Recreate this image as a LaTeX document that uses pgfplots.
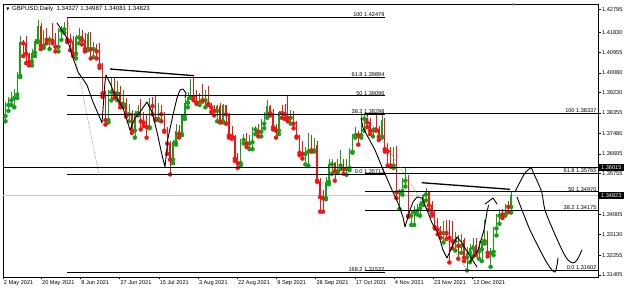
\documentclass[border=0pt]{standalone}
\usepackage{pgfplots}
\pgfplotsset{compat=1.18}
\usepackage{pgfplotstable}
\usepackage{fontspec}
\setmainfont{Liberation Sans}
\newfontfamily\dv{DejaVu Sans}
\definecolor{cgreen}{RGB}{20,160,20}
\definecolor{cred}{RGB}{240,20,20}
\newcommand\fs{\fontsize{5.6}{6}\selectfont}
\tikzset{fl/.style={anchor=south east, inner sep=0.4pt, font=\fs}}

\pgfplotstableread{
i o h l c
0 1.3822 1.3885 1.3800 1.3870
1 1.3870 1.3905 1.3845 1.3890
2 1.3890 1.3925 1.3870 1.3900
3 1.3900 1.3940 1.3860 1.3915
4 1.3915 1.4010 1.3900 1.3995
5 1.3995 1.4166 1.3990 1.4140
9 1.4055 1.4110 1.4040 1.4095
10 1.4095 1.4155 1.4080 1.4145
11 1.4145 1.4234 1.4140 1.4210
13 1.4125 1.4190 1.4115 1.4185
15 1.4150 1.4165 1.4110 1.4155
18 1.4120 1.4200 1.4100 1.4190
19 1.4190 1.4210 1.4150 1.4195
20 1.4195 1.4225 1.4180 1.4215
24 1.4090 1.4170 1.4070 1.4160
25 1.4160 1.4200 1.4135 1.4165
28 1.4110 1.4185 1.4105 1.4175
30 1.4110 1.4140 1.4075 1.4115
35 1.3805 1.3935 1.3795 1.3925
36 1.3925 1.3990 1.3890 1.3960
38 1.3920 1.3975 1.3890 1.3925
40 1.3875 1.3935 1.3860 1.3880
42 1.3830 1.3875 1.3800 1.3835
44 1.3760 1.3845 1.3730 1.3835
45 1.3835 1.3870 1.3825 1.3840
49 1.3775 1.3900 1.3770 1.3890
52 1.3810 1.3880 1.3805 1.3855
57 1.3635 1.3720 1.3620 1.3710
58 1.3710 1.3790 1.3700 1.3760
60 1.3745 1.3830 1.3740 1.3825
61 1.3825 1.3895 1.3810 1.3880
62 1.3880 1.3925 1.3860 1.3905
63 1.3905 1.3983 1.3900 1.3960
66 1.3880 1.3920 1.3870 1.3905
68 1.3890 1.3935 1.3860 1.3925
72 1.3845 1.3870 1.3800 1.3865
74 1.3800 1.3875 1.3795 1.3870
80 1.3620 1.3725 1.3610 1.3720
81 1.3720 1.3745 1.3705 1.3735
83 1.3705 1.3740 1.3680 1.3710
84 1.3710 1.3775 1.3680 1.3765
85 1.3765 1.3780 1.3745 1.3770
87 1.3755 1.3810 1.3735 1.3790
88 1.3790 1.3840 1.3770 1.3830
89 1.3830 1.3890 1.3815 1.3865
93 1.3760 1.3845 1.3745 1.3840
97 1.3815 1.3850 1.3790 1.3825
102 1.3660 1.3690 1.3615 1.3670
103 1.3670 1.3750 1.3610 1.3725
105 1.3675 1.3730 1.3670 1.3700
109 1.3470 1.3560 1.3465 1.3540
110 1.3540 1.3640 1.3530 1.3615
111 1.3615 1.3640 1.3575 1.3620
113 1.3585 1.3640 1.3580 1.3610
114 1.3610 1.3675 1.3595 1.3615
116 1.3595 1.3640 1.3570 1.3600
117 1.3600 1.3685 1.3590 1.3670
118 1.3670 1.3745 1.3665 1.3740
119 1.3740 1.3775 1.3730 1.3750
121 1.3740 1.3834 1.3730 1.3810
122 1.3810 1.3835 1.3760 1.3815
125 1.3760 1.3775 1.3735 1.3770
128 1.3735 1.3825 1.3730 1.3805
132 1.3610 1.3690 1.3600 1.3650
134 1.3495 1.3510 1.3424 1.3500
135 1.3500 1.3555 1.3485 1.3545
136 1.3545 1.3605 1.3520 1.3555
138 1.3395 1.3420 1.3355 1.3410
139 1.3410 1.3435 1.3355 1.3415
140 1.3415 1.3445 1.3400 1.3425
141 1.3425 1.3460 1.3395 1.3450
142 1.3450 1.3490 1.3440 1.3485
143 1.3485 1.3515 1.3460 1.3495
149 1.3320 1.3370 1.3280 1.3335
153 1.3285 1.3325 1.3245 1.3300
155 1.3265 1.3315 1.3235 1.3290
157 1.3215 1.3260 1.3160 1.3235
158 1.3235 1.3275 1.3195 1.3255
159 1.3255 1.3300 1.3220 1.3270
161 1.3240 1.3285 1.3210 1.3250
162 1.3250 1.3295 1.3200 1.3285
163 1.3285 1.3375 1.3275 1.3325
165 1.3235 1.3255 1.3175 1.3240
166 1.3240 1.3345 1.3225 1.3340
167 1.3340 1.3400 1.3310 1.3395
168 1.3395 1.3425 1.3360 1.3405
170 1.3400 1.3445 1.3395 1.3435
172 1.34327 1.34987 1.34081 1.34823
}\up

\pgfplotstableread{
i o h l c
6 1.4140 1.4150 1.4080 1.4135
7 1.4135 1.4165 1.4050 1.4090
8 1.4090 1.4095 1.4040 1.4055
12 1.4210 1.4220 1.4110 1.4125
14 1.4185 1.4200 1.4135 1.4150
16 1.4155 1.4220 1.4135 1.4145
17 1.4145 1.4180 1.4100 1.4120
21 1.4215 1.4249 1.4140 1.4150
22 1.4150 1.4175 1.4105 1.4145
23 1.4145 1.4165 1.4080 1.4090
26 1.4165 1.4190 1.4130 1.4150
27 1.4150 1.4180 1.4100 1.4110
29 1.4175 1.4185 1.4070 1.4110
31 1.4115 1.4130 1.4070 1.4100
32 1.4100 1.4135 1.4030 1.4040
33 1.4040 1.4050 1.3905 1.3920
34 1.3920 1.3930 1.3786 1.3805
37 1.3960 1.3985 1.3900 1.3920
39 1.3925 1.3950 1.3860 1.3875
41 1.3880 1.3900 1.3820 1.3830
43 1.3835 1.3850 1.3750 1.3760
46 1.3840 1.3895 1.3765 1.3800
47 1.3800 1.3840 1.3780 1.3795
48 1.3795 1.3830 1.3730 1.3775
50 1.3890 1.3905 1.3830 1.3865
51 1.3865 1.3910 1.3805 1.3810
53 1.3855 1.3870 1.3800 1.3830
54 1.3830 1.3840 1.3755 1.3760
55 1.3760 1.3775 1.3660 1.3705
56 1.3705 1.3715 1.3572 1.3635
59 1.3760 1.3785 1.3730 1.3745
64 1.3960 1.3985 1.3890 1.3905
65 1.3905 1.3935 1.3875 1.3880
67 1.3905 1.3960 1.3885 1.3890
69 1.3925 1.3950 1.3870 1.3875
70 1.3875 1.3880 1.3840 1.3860
71 1.3860 1.3870 1.3825 1.3845
73 1.3865 1.3880 1.3795 1.3800
75 1.3870 1.3872 1.3790 1.3830
76 1.3830 1.3835 1.3730 1.3740
77 1.3740 1.3780 1.3725 1.3735
78 1.3735 1.3740 1.3630 1.3640
79 1.3640 1.3665 1.3600 1.3620
82 1.3735 1.3750 1.3690 1.3705
86 1.3770 1.3790 1.3735 1.3755
90 1.3865 1.3870 1.3825 1.3835
91 1.3835 1.3855 1.3765 1.3775
92 1.3775 1.3790 1.3730 1.3760
94 1.3840 1.3870 1.3815 1.3835
95 1.3835 1.3875 1.3810 1.3830
96 1.3830 1.3913 1.3800 1.3815
98 1.3825 1.3845 1.3770 1.3790
99 1.3790 1.3800 1.3730 1.3735
100 1.3735 1.3740 1.3655 1.3665
101 1.3665 1.3715 1.3640 1.3660
104 1.3725 1.3740 1.3670 1.3675
106 1.3700 1.3715 1.3540 1.3545
107 1.3545 1.3555 1.3412 1.3475
108 1.3475 1.3505 1.3412 1.3470
112 1.3620 1.3625 1.3545 1.3585
115 1.3615 1.3640 1.3575 1.3595
120 1.3750 1.3760 1.3700 1.3740
123 1.3815 1.3825 1.3775 1.3795
124 1.3795 1.3815 1.3745 1.3760
126 1.3770 1.3830 1.3760 1.3765
127 1.3765 1.3780 1.3720 1.3735
129 1.3805 1.3815 1.3670 1.3680
130 1.3680 1.3705 1.3610 1.3670
131 1.3670 1.3690 1.3605 1.3610
133 1.3650 1.3695 1.3470 1.3495
137 1.3555 1.3570 1.3390 1.3395
144 1.3495 1.3497 1.3420 1.3440
145 1.3440 1.3460 1.3395 1.3405
146 1.3405 1.3415 1.3340 1.3345
147 1.3345 1.3385 1.3315 1.3335
148 1.3335 1.3350 1.3300 1.3320
150 1.3335 1.3375 1.3295 1.3320
151 1.3320 1.3375 1.3194 1.3300
152 1.3300 1.3370 1.3255 1.3285
154 1.3300 1.3310 1.3210 1.3265
156 1.3290 1.3300 1.3200 1.3215
160 1.3270 1.3300 1.3225 1.3240
164 1.3325 1.3330 1.3220 1.3235
169 1.3405 1.3425 1.3385 1.3400
171 1.3435 1.3460 1.3410 1.34327
}\dn

\begin{document}
\begin{tikzpicture}
\useasboundingbox (0,0) rectangle (625pt,291pt);
\begin{axis}[
  at={(3pt,14pt)}, anchor=south west,
  scale only axis, width=595pt, height=273pt,
  xmin=-0.85, xmax=201.53, ymin=1.31316, ymax=1.43037,
  clip mode=individual,
  axis line style={black, line width=0.6pt},
  tick align=outside, major tick length=2.5pt,
  tick style={black, line width=0.5pt},
  xtick pos=left, ytick pos=right, yticklabel pos=right,
  ytick={1.31405,1.32255,1.33130,1.34005,1.34880,1.35755,1.36605,1.37480,1.38355,1.39230,1.40080,1.40955,1.41830,1.42795},
  yticklabels={1.31405,1.32255,1.33130,1.34005,,1.35755,1.36605,1.37480,1.38355,1.39230,1.40080,1.40955,1.41830,1.42795},
  xtick={-0.85,12.14,25.48,38.81,52.14,65.48,78.81,92.14,105.48,118.81,132.14,145.48,158.81},
  xticklabels={2 May 2021,20 May 2021,8 Jun 2021,27 Jun 2021,15 Jul 2021,3 Aug 2021,22 Aug 2021,9 Sep 2021,28 Sep 2021,17 Oct 2021,4 Nov 2021,23 Nov 2021,12 Dec 2021},
  yticklabel style={font=\fs, anchor=west, inner sep=1pt, xshift=0.5pt},
  xticklabel style={font=\fs, anchor=north west, inner sep=0pt, xshift=0.8pt, yshift=-1pt},
  fib/.style={black, line width=0.8pt},
  hand/.style={black, line width=0.9pt, line join=round, line cap=round},
]
% current price line
\addplot[gray!45, line width=0.6pt] coordinates {(-0.85,1.34823) (201.53,1.34823)};
% candles: wicks
\addplot[only marks, mark=none, cgreen, error bars/.cd, y dir=plus, y explicit, error mark=none, error bar style={line width=0.55pt, draw=cgreen}]
  table[x=i, y=l, y error expr=\thisrow{h}-\thisrow{l}] {\up};
\addplot[only marks, mark=none, cred, error bars/.cd, y dir=plus, y explicit, error mark=none, error bar style={line width=0.55pt, draw=cred}]
  table[x=i, y=l, y error expr=\thisrow{h}-\thisrow{l}] {\dn};
% candles: bodies
\addplot[only marks, mark=none, cgreen, error bars/.cd, y dir=plus, y explicit, error mark=none, error bar style={line width=1.4pt, draw=cgreen}]
  table[x=i, y=o, y error expr={max(\thisrow{c}-\thisrow{o},0.00008)}] {\up};
\addplot[only marks, mark=none, cred, error bars/.cd, y dir=plus, y explicit, error mark=none, error bar style={line width=1.4pt, draw=cred}]
  table[x=i, y=c, y error expr={max(\thisrow{o}-\thisrow{c},0.00008)}] {\dn};

% horizontal line 1.36015
\addplot[fib] coordinates {(-0.85,1.36015) (201.53,1.36015)};
% Fibonacci 1
\addplot[fib] coordinates {(20.92,1.42479) (129.08,1.42479)};
\addplot[fib] coordinates {(20.92,1.39894) (129.08,1.39894)};
\addplot[fib] coordinates {(20.92,1.39096) (129.08,1.39096)};
\addplot[fib] coordinates {(20.92,1.38298) (129.08,1.38298)};
\addplot[fib] coordinates {(20.92,1.35713) (129.08,1.35713)};
\addplot[fib] coordinates {(20.92,1.31532) (129.08,1.31532)};
\addplot[gray, line width=0.5pt, dash pattern=on 1pt off 1pt] coordinates {(20.92,1.42479) (31.80,1.35713)};
% Fibonacci 2
\addplot[fib] coordinates {(122.28,1.38337) (201.53,1.38337)};
\addplot[fib] coordinates {(122.28,1.35765) (201.53,1.35765)};
\addplot[fib] coordinates {(122.28,1.34970) (201.53,1.34970)};
\addplot[fib] coordinates {(122.28,1.34175) (201.53,1.34175)};
\addplot[fib] coordinates {(122.28,1.31602) (201.53,1.31602)};
\addplot[gray, line width=0.5pt, dash pattern=on 1pt off 1pt] coordinates {(122.28,1.38337) (156.97,1.31602)};
% trend lines
\addplot[black, line width=1.3pt] coordinates {(35.54,1.40246) (64.12,1.39959)};
\addplot[black, line width=1.3pt] coordinates {(141.57,1.35364) (171.60,1.35081)};
% hand-drawn paths
\addplot[hand] coordinates {(17.52,1.42221) (20.92,1.41577) (22.62,1.40847) (24.66,1.40117) (27.72,1.39559) (29.76,1.38829) (32.14,1.38142) (32.82,1.37928) (33.84,1.39688) (34.18,1.39989) (35.54,1.39645) (37.25,1.39130) (39.97,1.38572) (42.35,1.37627) (44.05,1.38142) (45.75,1.38400) (48.13,1.38829) (49.83,1.38400) (51.53,1.37541) (53.23,1.36554) (54.25,1.36039) (55.27,1.37284) (56.97,1.38271) (58.33,1.39001) (59.35,1.39345) (60.37,1.39388) (61.40,1.39216) (61.06,1.39001)};
\addplot[hand] coordinates {(120.92,1.38142) (121.60,1.37713) (123.30,1.37327) (125.68,1.36768) (128.06,1.36039) (131.46,1.35051) (133.50,1.34493) (135.20,1.33891) (135.89,1.33462) (137.59,1.34192) (138.61,1.34536) (139.97,1.34750) (141.67,1.34707) (143.37,1.34192) (145.07,1.33634) (147.11,1.33205) (148.81,1.32475) (150.17,1.32131) (151.87,1.32604) (153.57,1.33033) (155.27,1.32775) (157.31,1.32346) (160.37,1.31745)};
\addplot[hand] coordinates {(157.99,1.31959) (160.72,1.32475) (162.76,1.33334) (163.78,1.34106) (164.30,1.34400)};
\addplot[hand] coordinates {(163.10,1.34450) (165.82,1.34707) (167.18,1.34450)};
\addplot[hand, smooth, tension=0.5] coordinates {(173.30,1.34965) (175.00,1.35394) (176.70,1.35781) (178.74,1.35996) (179.42,1.35824) (181.13,1.35351) (182.48,1.34922) (183.50,1.34192) (186.23,1.33334) (189.63,1.32389) (191.33,1.32045) (193.03,1.31916) (194.39,1.32045) (196.09,1.32475)};
\addplot[hand, smooth, tension=0.5] coordinates {(173.98,1.34750) (175.68,1.34192) (178.40,1.33334) (181.80,1.32475) (184.18,1.31916) (185.89,1.31616) (186.91,1.31530) (187.59,1.31831) (187.93,1.32131)};

% labels
\node[fl] at (axis cs:129.08,1.42479) {100 1.42479};
\node[fl] at (axis cs:129.08,1.39894) {61.8 1.39894};
\node[fl] at (axis cs:129.08,1.39096) {50 1.39096};
\node[fl] at (axis cs:129.08,1.38298) {38.2 1.38298};
\node[fl] at (axis cs:129.08,1.35713) {0.0 1.35713};
\node[fl] at (axis cs:129.08,1.31532) {168.2 1.31532};
\node[fl] at (axis cs:201.19,1.38337) {100 1.38337};
\node[fl] at (axis cs:201.19,1.35765) {61.8 1.35765};
\node[fl] at (axis cs:201.19,1.34970) {50 1.34970};
\node[fl] at (axis cs:201.19,1.34175) {38.2 1.34175};
\node[fl] at (axis cs:201.19,1.31602) {0.0 1.31602};

\node[anchor=west, inner sep=0pt, font=\dv\fontsize{4}{4}\selectfont] at (axis cs:0.2,1.42822) {▼};
\node[anchor=west, inner sep=0pt, font=\fontsize{6.1}{7}\selectfont] at (axis cs:2.2,1.42822) {GBPUSD,Daily\ \ 1.34327 1.34987 1.34081 1.34823};
\node[inner sep=0pt, gray, font=\dv\fontsize{4}{4}\selectfont] at (axis cs:172.96,1.42990) {▼};

\node[anchor=west, fill=black, text=white, inner sep=1pt, minimum width=25pt, minimum height=7.5pt, font=\fs, xshift=0.6pt] at (axis cs:201.53,1.36015) {1.36015};
\node[anchor=west, fill=black, text=white, inner sep=1pt, minimum width=25pt, minimum height=7.5pt, font=\fs, xshift=0.6pt] at (axis cs:201.53,1.34823) {1.34823};
\end{axis}
\end{tikzpicture}
\end{document}
